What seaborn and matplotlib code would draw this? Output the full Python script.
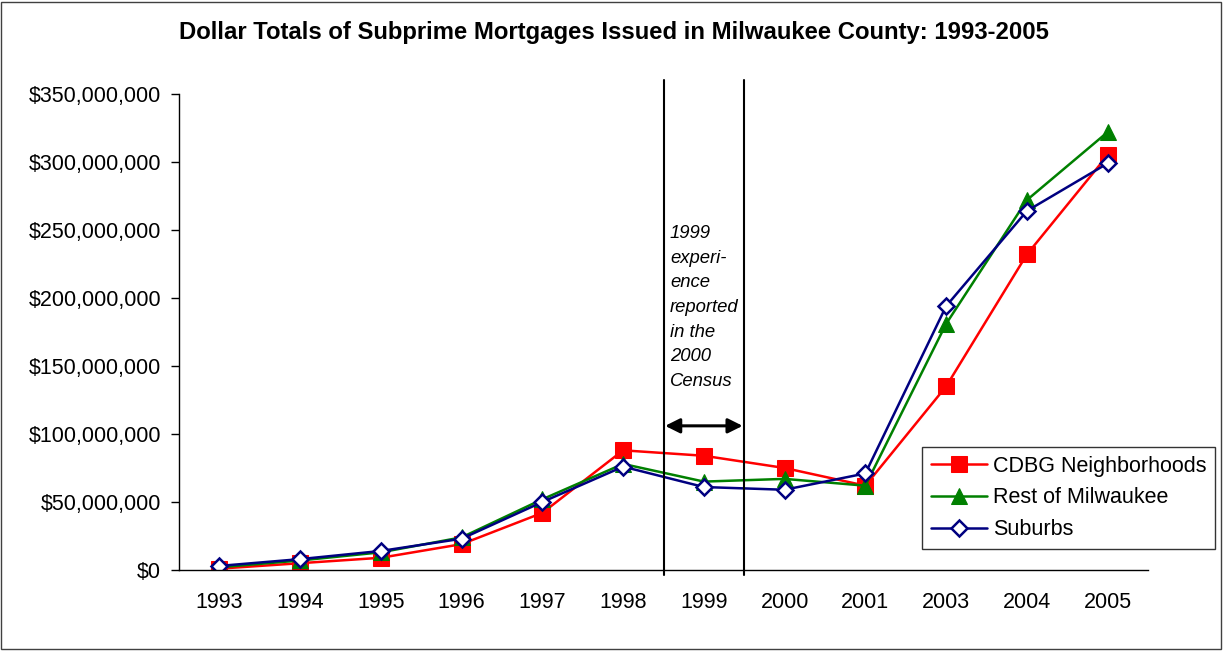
import matplotlib
matplotlib.use("Agg")
import matplotlib.pyplot as plt
import matplotlib.patches as patches
from matplotlib.ticker import FuncFormatter, FixedLocator
import seaborn as sns
import pandas as pd

# 데이터
years = ["1993", "1994", "1995", "1996", "1997", "1998", "1999",
         "2000", "2001", "2003", "2004", "2005"]
cdbg = [1, 5, 9, 19, 42, 88, 84, 75, 62, 135, 232, 305]      # 백만 달러
rest = [2, 7, 13, 24, 52, 78, 65, 67, 62, 181, 272, 322]
suburbs = [3, 8, 14, 23, 50, 76, 61, 59, 71, 194, 264, 299]
series_names = ["CDBG Neighborhoods", "Rest of Milwaukee", "Suburbs"]

df = pd.DataFrame({
    "year": years * 3,
    "value": [v * 1e6 for v in cdbg + rest + suburbs],
    "series": [s for s in series_names for _ in years],
})

sns.set_style("white")
plt.rcParams["font.family"] = ["Liberation Sans", "DejaVu Sans"]
plt.rcParams["text.color"] = "black"
plt.rcParams["xtick.color"] = "black"
plt.rcParams["ytick.color"] = "black"

fig = plt.figure(figsize=(12.23, 6.51), dpi=100)
ax = fig.add_axes([179 / 1223, 81 / 651, (1148 - 179) / 1223, 476 / 651])

styles = {
    "CDBG Neighborhoods": dict(color="#ff0000", marker="s", markersize=11,
                               markerfacecolor="#ff0000", markeredgecolor="#ff0000"),
    "Rest of Milwaukee": dict(color="#008000", marker="^", markersize=12,
                              markerfacecolor="#008000", markeredgecolor="#008000"),
    "Suburbs": dict(color="#000080", marker="D", markersize=8.5,
                    markerfacecolor="white", markeredgecolor="#000080", markeredgewidth=1.8),
}
for name in series_names:
    sub = df[df["series"] == name]
    sns.lineplot(data=sub, x="year", y="value", ax=ax, label=name,
                 linewidth=1.8, sort=False, **styles[name])

ax.set_xlim(-0.5, len(years) - 0.5)
ax.set_ylim(0, 350e6)
ax.set_yticks([i * 50e6 for i in range(8)])
ax.yaxis.set_major_formatter(FuncFormatter(lambda v, p: "${:,.0f}".format(v)))
ax.set_xticks(range(len(years)))
ax.set_xticklabels(years)
ax.xaxis.set_minor_locator(FixedLocator([i + 0.5 for i in range(len(years))]))
ax.tick_params(axis="x", which="major", length=0, pad=16, labelsize=15.5)
ax.tick_params(axis="x", which="minor", direction="in", length=5, width=1, color="black")
ax.tick_params(axis="y", direction="out", length=6, width=1, pad=7, labelsize=15.5,
               color="black", left=True)
ax.set_xlabel("")
ax.set_ylabel("")
for side in ["top", "right"]:
    ax.spines[side].set_visible(False)
for side in ["left", "bottom"]:
    ax.spines[side].set_color("black")
    ax.spines[side].set_linewidth(1)

# 1999 구간 표시선
for xv in [5.5, 6.5]:
    ax.axvline(xv, ymin=-5 / 476, ymax=(570 - 80) / 476, color="black",
               linewidth=1.5, clip_on=False)
ax.annotate("", xy=(5.52, 106e6), xytext=(6.48, 106e6),
            arrowprops=dict(arrowstyle="<|-|>", color="black", lw=2.2,
                            mutation_scale=22, shrinkA=0, shrinkB=0))
ax.text(5.58, 193e6, "1999\nexperi-\nence\nreported\nin the\n2000\nCensus",
        fontsize=13.3, style="italic", ha="left", va="center", linespacing=1.58)

leg = ax.legend(loc="upper left", bbox_to_anchor=(922 / 1223, 1 - 447 / 651),
                bbox_transform=fig.transFigure, fontsize=15.5, frameon=True,
                fancybox=False, edgecolor="black", handlelength=2.6,
                borderpad=0.4, labelspacing=0.5, handletextpad=0.3,
                borderaxespad=0)
leg.get_frame().set_linewidth(1)

fig.suptitle("Dollar Totals of Subprime Mortgages Issued in Milwaukee County: 1993-2005",
             x=614 / 1223, y=1 - 33 / 651, va="center", fontsize=17.2, fontweight="bold")

fig.patches.append(patches.Rectangle((1 / 1223, 2 / 651), 1220 / 1223, 647 / 651,
                                     transform=fig.transFigure, fill=False,
                                     edgecolor="#404040", linewidth=1))

fig.savefig("out.png", dpi=100)
